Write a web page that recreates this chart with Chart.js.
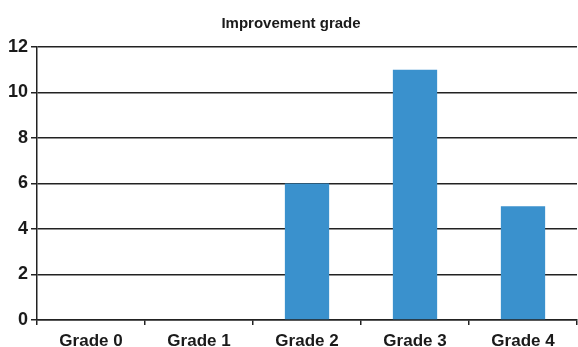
<!DOCTYPE html>
<html lang="en">
<head>
  <meta charset="UTF-8" />
  <title>Improvement grade</title>
  <script src="https://cdn.jsdelivr.net/npm/chart.js"></script>
  <style>
    body{margin:0;padding:0;background:#fff}
    #wrap{width:578px;height:347px;position:relative}
  </style>
</head>
<body>
<div id="wrap"><canvas id="grafico"></canvas></div>
<script>
/* datos */
const categorias = ["Grade 0","Grade 1","Grade 2","Grade 3","Grade 4"];
const valores    = [0, 0, 6, 11, 5];
const ticksY     = [0, 2, 4, 6, 8, 10, 12];

const fuente = "'Liberation Sans', Arial, sans-serif";

new Chart(document.getElementById("grafico"), {
  type: "bar",
  data: {
    labels: categorias,
    datasets: [{
      data: valores,
      backgroundColor: "#3a91cd",
      categoryPercentage: 1,
      barPercentage: 0.41
    }]
  },
  options: {
    responsive: true,
    maintainAspectRatio: false,
    animation: false,
    layout: { padding: { top: 15, right: 1, left: 5, bottom: 0 } },
    plugins: {
      legend: { display: false },
      tooltip: { enabled: false },
      title: {
        display: true,
        text: "Improvement grade",
        color: "#1a1a1a",
        font: { family: fuente, size: 15, weight: "bold" },
        padding: { top: 0, bottom: 14 }
      }
    },
    scales: {
      y: {
        min: 0, max: 12,
        afterBuildTicks: s => { s.ticks = ticksY.map(v => ({ value: v })); },
        grid: { color: "#222", lineWidth: 1.5, tickLength: 6 },
        border: { color: "#222", width: 1.5 },
        ticks: {
          color: "#1a1a1a", padding: 3,
          font: { family: fuente, size: 18, weight: "bold" }
        }
      },
      x: {
        // altura fija del eje para que el área del gráfico llegue a y≈320
        afterFit: s => { s.height = 27; },
        grid: { offset: true, drawOnChartArea: false, color: "#222", lineWidth: 1.5, tickLength: 5 },
        border: { color: "#222", width: 1.5 },
        ticks: {
          color: "#1a1a1a", padding: 8,
          font: { family: fuente, size: 17, weight: "bold", lineHeight: 1 }
        }
      }
    }
  }
});
</script>
</body>
</html>
